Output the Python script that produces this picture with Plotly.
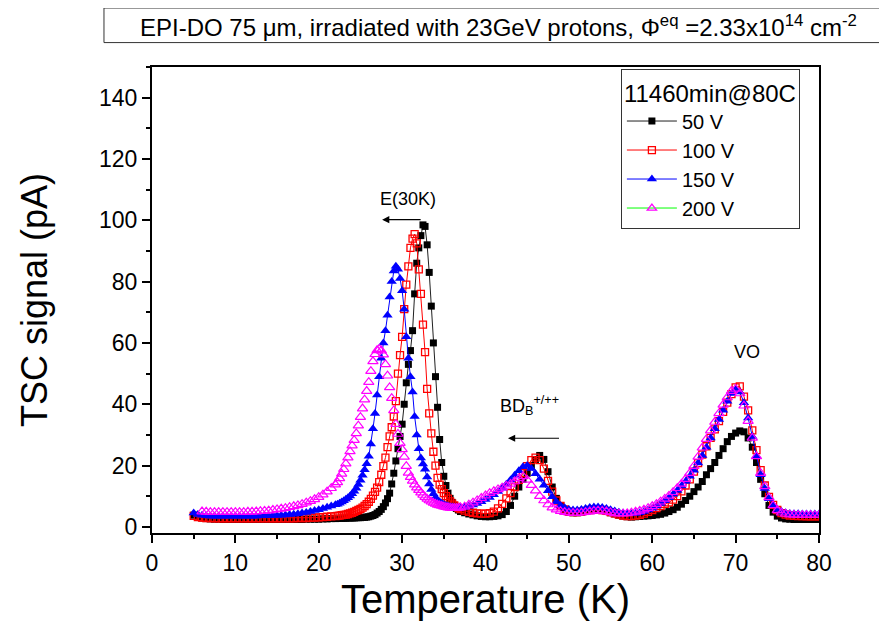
import plotly.graph_objects as go

# Temperature grid (K)
temps = [5.0, 5.5, 6.0, 6.5, 7.0, 7.5, 8.0, 8.5, 9.0, 9.5,
         10.0, 10.5, 11.0, 11.5, 12.0, 12.5, 13.0, 13.5, 14.0, 14.5,
         15.0, 15.5, 16.0, 16.5, 17.0, 17.5, 18.0, 18.5, 19.0, 19.5,
         20.0, 20.5, 21.0, 21.5, 22.0,
         22.25, 22.5, 22.75, 23.0, 23.25, 23.5, 23.75, 24.0, 24.25, 24.5,
         24.75, 25.0, 25.25, 25.5, 25.75, 26.0, 26.25, 26.5, 26.75, 27.0,
         27.25, 27.5, 27.75, 28.0, 28.25, 28.5, 28.75, 29.0, 29.25, 29.5,
         29.75, 30.0, 30.25, 30.5, 30.75, 31.0, 31.25, 31.5, 31.75, 32.0,
         32.25, 32.5, 32.75, 33.0, 33.25, 33.5, 33.75, 34.0, 34.25, 34.5,
         34.75, 35.0, 35.25, 35.5, 35.75, 36.0, 36.25, 36.5, 36.75, 37.0,
         37.5, 38.0, 38.5, 39.0, 39.5, 40.0,
         40.5, 41.0, 41.5, 42.0, 42.5, 43.0, 43.5, 44.0, 44.5, 45.0,
         45.5, 46.0, 46.5, 47.0, 47.5, 48.0, 48.5, 49.0, 49.5, 50.0,
         50.5, 51.0, 51.5, 52.0, 52.5, 53.0, 53.5, 54.0, 54.5, 55.0,
         55.5, 56.0, 56.5, 57.0, 57.5, 58.0, 58.5, 59.0, 59.5, 60.0,
         60.5, 61.0, 61.5, 62.0, 62.5, 63.0, 63.5, 64.0, 64.5, 65.0,
         65.5, 66.0, 66.5, 67.0, 67.5, 68.0, 68.5, 69.0, 69.5, 70.0,
         70.5, 71.0, 71.5, 72.0, 72.5, 73.0, 73.5, 74.0, 74.5, 75.0,
         75.5, 76.0, 76.5, 77.0, 77.5, 78.0, 78.5, 79.0, 79.5, 80.0]

# TSC signal (pA)
sig_50V = [3.8, 3.2, 2.9, 2.7, 2.6, 2.5, 2.5, 2.4, 2.4, 2.4,
           2.4, 2.4, 2.4, 2.4, 2.4, 2.4, 2.4, 2.4, 2.4, 2.4,
           2.4, 2.4, 2.4, 2.4, 2.4, 2.4, 2.4, 2.5, 2.5, 2.5,
           2.5, 2.6, 2.6, 2.7, 2.7,
           2.8, 2.8, 2.8, 2.8, 2.8, 2.9, 2.9, 2.9, 2.9, 3.0,
           3.0, 3.0, 3.1, 3.1, 3.2, 3.3, 3.5, 3.7, 4.0, 4.5,
           5.0, 5.7, 6.6, 7.8, 9.2, 11.0, 14.0, 17.5, 21.5, 25.5,
           29.5, 33.5, 40.0, 47.0, 53.0, 57.5, 64.0, 76.0, 86.0, 91.0,
           95.0, 98.5, 98.0, 92.0, 83.0, 72.0, 60.0, 49.0, 39.0, 28.5,
           21.0, 16.5, 13.5, 11.0, 9.3, 8.0, 7.0, 6.0, 5.5, 5.0,
           4.6, 4.2, 3.9, 3.6, 3.4, 3.3,
           3.3, 3.4, 3.6, 4.0, 5.0, 7.0, 10.0, 13.0, 15.5, 17.5,
           20.0, 22.0, 23.3, 22.0, 18.0, 13.0, 9.3, 6.8, 5.5, 4.8,
           4.6, 4.6, 4.8, 5.0, 5.3, 5.5, 5.5, 5.3, 5.0, 4.6,
           4.2, 3.8, 3.5, 3.3, 3.2, 3.3, 3.4, 3.5, 3.6, 3.7,
           3.9, 4.1, 4.5, 5.0, 5.6, 6.4, 7.4, 8.6, 10.0, 11.5,
           13.0, 14.8, 17.0, 19.0, 21.0, 23.3, 25.5, 27.8, 29.5, 30.6,
           31.3, 31.0, 29.0, 26.0, 21.0, 15.5, 10.8, 7.0, 4.8, 3.5,
           2.9, 2.6, 2.5, 2.4, 2.4, 2.4, 2.4, 2.4, 2.4, 2.4]

sig_100V = [3.6, 3.2, 3.0, 2.9, 2.9, 2.8, 2.8, 2.8, 2.8, 2.8,
            2.8, 2.8, 2.8, 2.8, 2.8, 2.8, 2.8, 2.8, 2.8, 2.8,
            2.8, 2.8, 2.8, 2.8, 2.8, 2.9, 2.9, 2.9, 3.0, 3.0,
            3.1, 3.2, 3.3, 3.4, 3.5,
            3.6, 3.7, 3.8, 3.9, 4.0, 4.2, 4.4, 4.6, 4.9, 5.2,
            5.5, 5.9, 6.3, 6.8, 7.4, 8.2, 9.1, 10.2, 11.4, 12.8,
            14.6, 17.0, 19.8, 22.6, 26.0, 29.5, 32.5, 36.0, 41.0, 50.0,
            56.0, 62.0, 71.0, 79.0, 85.0, 91.0, 94.0, 95.5, 92.5, 84.0,
            76.0, 66.0, 57.0, 45.0, 37.0, 30.5, 24.5, 20.0, 16.0, 13.8,
            12.3, 11.0, 10.0, 9.2, 8.3, 7.6, 7.0, 6.5, 6.1, 5.8,
            5.3, 4.9, 4.6, 4.4, 4.3, 4.3,
            4.5, 5.0, 6.0, 7.5, 9.3, 11.0, 13.0, 15.3, 17.5, 19.8,
            21.8, 22.6, 21.8, 19.0, 15.0, 11.5, 8.6, 6.8, 5.7, 5.0,
            4.8, 4.8, 5.0, 5.2, 5.5, 5.7, 5.7, 5.5, 5.2, 4.8,
            4.4, 4.0, 3.7, 3.5, 3.5, 3.7, 3.9, 4.3, 4.9, 5.5,
            6.1, 6.8, 7.5, 8.0, 8.9, 10.0, 11.6, 13.5, 15.5, 18.0,
            20.8, 23.6, 26.3, 29.0, 31.8, 34.5, 37.5, 40.5, 43.3, 45.5,
            45.8, 42.5, 38.0, 31.5, 25.0, 18.5, 13.5, 9.8, 7.2, 5.5,
            4.5, 4.0, 3.7, 3.6, 3.5, 3.5, 3.4, 3.4, 3.4, 3.4]

sig_150V = [4.5, 4.0, 3.8, 3.6, 3.5, 3.5, 3.5, 3.5, 3.5, 3.5,
            3.5, 3.5, 3.5, 3.5, 3.5, 3.5, 3.6, 3.6, 3.6, 3.7,
            3.7, 3.8, 3.9, 4.0, 4.1, 4.3, 4.5, 4.7, 5.0, 5.3,
            5.6, 6.0, 6.4, 6.8, 7.2,
            7.4, 7.7, 8.1, 8.5, 9.0, 9.5, 10.1, 10.8, 11.6, 12.6,
            13.8, 15.2, 16.8, 18.6, 20.6, 23.0, 27.0, 32.0, 37.0, 43.0,
            49.0, 55.0, 60.0, 64.0, 69.0, 75.0, 80.0, 83.5, 85.0, 84.0,
            81.0, 77.0, 71.0, 62.0, 55.0, 49.0, 44.0, 36.0, 30.0, 25.5,
            22.5, 20.5, 18.8, 16.3, 14.0, 12.2, 10.8, 9.6, 8.8, 8.2,
            7.7, 7.3, 7.0, 6.8, 6.6, 6.5, 6.4, 6.3, 6.3, 6.3,
            6.4, 6.7, 7.1, 7.6, 8.2, 8.9,
            9.6, 10.5, 11.5, 12.6, 13.9, 15.3, 16.8, 18.3, 19.6, 20.0,
            19.0, 17.3, 15.5, 13.6, 11.8, 9.8, 8.2, 7.0, 6.2, 5.7,
            5.5, 5.5, 5.7, 6.0, 6.3, 6.5, 6.5, 6.3, 6.0, 5.6,
            5.2, 4.8, 4.5, 4.3, 4.3, 4.4, 4.6, 5.0, 5.5, 6.1,
            6.8, 7.6, 8.5, 9.5, 10.6, 11.9, 13.3, 14.8, 16.5, 18.5,
            20.8, 23.3, 26.0, 29.0, 32.0, 35.0, 38.0, 41.0, 43.5, 44.7,
            44.0, 40.5, 35.5, 29.5, 23.0, 17.0, 12.5, 9.2, 7.0, 5.7,
            5.0, 4.6, 4.4, 4.3, 4.3, 4.2, 4.2, 4.2, 4.2, 4.2]

sig_200V = [None, None, 5.0, 4.9, 4.8, 4.8, 4.8, 4.8, 4.8, 4.8,
            4.8, 4.8, 4.8, 4.9, 4.9, 5.0, 5.1, 5.2, 5.3, 5.5,
            5.7, 5.9, 6.1, 6.4, 6.7, 7.0, 7.4, 7.9, 8.4, 9.0,
            9.7, 10.5, 11.5, 12.6, 13.8,
            14.5, 15.8, 17.3, 18.8, 20.6, 22.6, 24.6, 26.5, 28.3, 30.5,
            33.0, 35.8, 38.6, 41.5, 44.3, 47.2, 50.8, 54.0, 56.3, 57.6,
            58.0, 57.5, 56.2, 53.0, 49.3, 45.5, 42.0, 38.0, 33.5, 30.3,
            27.3, 25.3, 22.8, 19.8, 17.6, 16.2, 15.0, 13.8, 12.8, 12.0,
            11.2, 10.4, 9.7, 9.1, 8.6, 8.2, 7.8, 7.5, 7.2, 7.0,
            6.8, 6.6, 6.4, 6.3, 6.2, 6.1, 6.1, 6.1, 6.2, 6.3,
            6.6, 7.2, 7.9, 8.6, 9.4, 10.2,
            11.0, 11.6, 12.2, 12.8, 13.4, 14.0, 14.8, 15.8, 16.5, 15.3,
            13.6, 11.8, 10.0, 8.6, 7.3, 6.3, 5.6, 5.1, 4.8, 4.6,
            4.5, 4.5, 4.6, 4.8, 5.0, 5.2, 5.3, 5.2, 5.0, 4.7,
            4.4, 4.3, 4.3, 4.4, 4.6, 4.9, 5.2, 5.6, 6.1, 6.7,
            7.4, 8.2, 9.1, 10.1, 11.3, 12.6, 14.0, 15.6, 17.5, 19.8,
            22.8, 25.8, 28.6, 31.4, 34.2, 37.0, 39.8, 42.2, 44.3, 45.0,
            43.5, 39.5, 34.5, 29.0, 23.0, 17.5, 13.2, 9.6, 7.0, 5.4,
            4.6, 4.2, 4.0, 3.9, 3.8, 3.8, 3.8, 3.8, 3.8, 3.8]

series_names = ["50 V", "100 V", "150 V", "200 V"]
legend_title = "11460min@80C"
x_title = "Temperature (K)"
y_title = "TSC signal (pA)"
header = "EPI-DO 75 \u03bcm, irradiated with 23GeV protons, \u03a6<sup>eq</sup> =2.33x10<sup>14</sup> cm<sup>-2</sup>"

FONT = "Liberation Sans, Arial, sans-serif"

fig = go.Figure()

fig.add_trace(go.Scatter(
    x=temps, y=sig_50V, name=series_names[0], mode="lines+markers",
    line=dict(color="#202020", width=1),
    marker=dict(symbol="square", size=7, color="black", line=dict(width=0)),
))
fig.add_trace(go.Scatter(
    x=temps, y=sig_100V, name=series_names[1], mode="lines+markers",
    line=dict(color="#ff0000", width=1),
    marker=dict(symbol="square-open", size=7, color="#ff0000", line=dict(width=1.3, color="#ff0000")),
))
fig.add_trace(go.Scatter(
    x=temps, y=sig_150V, name=series_names[2], mode="lines+markers",
    line=dict(color="#0000ff", width=1),
    marker=dict(symbol="triangle-up", size=9, color="#0000ff", line=dict(width=0)),
))
# legend-only entry for 200 V (green line, magenta open triangles)
fig.add_trace(go.Scatter(
    x=[None], y=[None], name=series_names[3], mode="lines+markers",
    line=dict(color="#00ff00", width=1),
    marker=dict(symbol="triangle-up-open", size=8, color="#ff00ff", line=dict(width=1.3, color="#ff00ff")),
))
fig.add_trace(go.Scatter(
    x=temps, y=sig_200V, name=series_names[3], mode="markers", showlegend=False,
    marker=dict(symbol="triangle-up-open", size=9, color="#ff00ff", line=dict(width=1.2, color="#ff00ff")),
))

axis_common = dict(
    showline=True, linecolor="black", linewidth=2, mirror=True,
    ticks="outside", ticklen=8, tickwidth=1.5, tickcolor="black",
    showgrid=False, zeroline=False,
    tickfont=dict(family=FONT, size=23, color="black"),
)

fig.update_xaxes(
    range=[0, 80], dtick=10, tick0=0,
    minor=dict(ticks="outside", ticklen=4, tickwidth=1.5, tickcolor="black", dtick=5, showgrid=False),
    title=dict(text=x_title, font=dict(family=FONT, size=40, color="black"), standoff=20),
    **axis_common,
)
fig.update_yaxes(
    range=[-2, 150], dtick=20, tick0=0,
    minor=dict(ticks="outside", ticklen=4, tickwidth=1.5, tickcolor="black", dtick=10, showgrid=False),
    title=dict(text=y_title, font=dict(family=FONT, size=36, color="black"), standoff=40),
    automargin=False,
    **axis_common,
)

# page body has an 8px margin, so the figure is sized/offset to compensate
fig.update_layout(
    width=879, height=613,
    margin=dict(l=144, r=68, t=59, b=88, autoexpand=False),
    paper_bgcolor="white", plot_bgcolor="white",
    font=dict(family=FONT, color="black"),
    legend=dict(
        title=dict(text=legend_title, font=dict(family=FONT, size=24)),
        font=dict(family=FONT, size=20),
        x=0.703, y=0.995, xanchor="left", yanchor="top",
        bgcolor="white", bordercolor="#333333", borderwidth=1,
        tracegroupgap=0, itemwidth=50,
    ),
    showlegend=True,
)

# header box
fig.add_shape(type="rect", xref="paper", yref="paper",
              x0=-0.072, x1=1.0975, y0=1.0524, y1=1.1266,
              line=dict(color="#333333", width=1), fillcolor="white", layer="above")
fig.add_annotation(xref="paper", yref="paper", x=0.519, y=1.089,
                   text=header, showarrow=False,
                   font=dict(family=FONT, size=24, color="black"),
                   xanchor="center", yanchor="middle")

# peak labels and arrows
fig.add_annotation(x=30.7, y=107, xref="x", yref="y", text="E(30K)", showarrow=False,
                   font=dict(family=FONT, size=18, color="black"))
fig.add_annotation(x=27.6, y=100.2, ax=32.4, ay=100.2, xref="x", yref="y", axref="x", ayref="y",
                   text="", showarrow=True, arrowhead=2, arrowsize=1.2, arrowwidth=1.2, arrowcolor="black")
fig.add_annotation(x=45.3, y=39.5, xref="x", yref="y", text="BD<sub>B</sub><sup>+/++</sup>", showarrow=False,
                   font=dict(family=FONT, size=18, color="black"))
fig.add_annotation(x=42.7, y=28.9, ax=49.0, ay=28.9, xref="x", yref="y", axref="x", ayref="y",
                   text="", showarrow=True, arrowhead=2, arrowsize=1.2, arrowwidth=1.2, arrowcolor="black")
fig.add_annotation(x=71.4, y=57, xref="x", yref="y", text="VO", showarrow=False,
                   font=dict(family=FONT, size=18, color="black"))

fig.write_html("out.html")
